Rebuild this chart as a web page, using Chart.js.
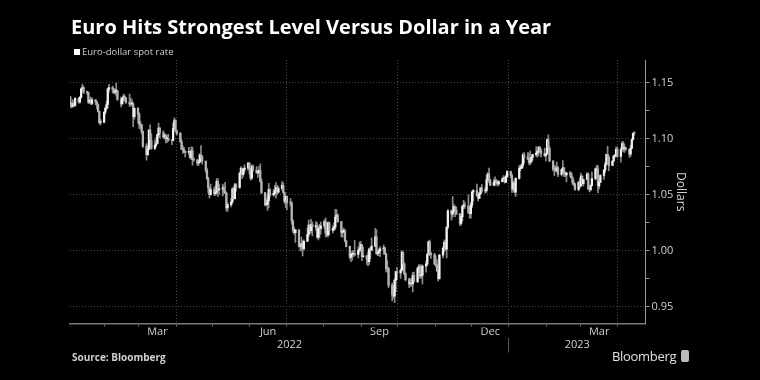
<!DOCTYPE html>
<html>
<head>
<meta charset="utf-8">
<script src="https://cdn.jsdelivr.net/npm/chart.js@4.4.1/dist/chart.umd.min.js"></script>
<style>
  html, body { margin: 0; padding: 0; background: #000; }
  #wrap { position: relative; width: 760px; height: 380px; background: #000; overflow: hidden; font-family: 'Open Sans', sans-serif; }
  #title { position: absolute; left: 71px; top: 15px; color: #fff; font-weight: 700; font-size: 20px; line-height: 24px; white-space: nowrap; }
  #legend { position: absolute; left: 74px; top: 45px; color: #d0d0d0; font-size: 9.5px; line-height: 14px; white-space: nowrap; }
  #legend .sw { display: inline-block; width: 6px; height: 6px; background: #fff; margin-right: 2px; }
  #source { position: absolute; left: 72px; top: 350px; color: #d0d0d0; font-weight: 700; font-size: 10px; line-height: 14px; }
  #brand { position: absolute; left: 612px; top: 347px; color: #e0e0e0; font-size: 13px; letter-spacing: -0.3px; line-height: 18px; white-space: nowrap; }
  #brand .ic { display: inline-block; width: 8px; height: 12px; background: #bbb; border-radius: 2px; margin-left: 5px; vertical-align: -1px; }
  canvas { position: absolute; left: 0; top: 0; }
</style>
</head>
<body>
<div id="wrap">
  <canvas id="c" width="760" height="380"></canvas>
  <div id="title">Euro Hits Strongest Level Versus Dollar in a Year</div>
  <div id="legend"><span class="sw"></span>Euro-dollar spot rate</div>
  <div id="source">Source: Bloomberg</div>
  <div id="brand">Bloomberg<span class="ic"></span></div>
</div>
<script>
// daily bars, one per weekday from firstDay; open = previous close
const firstDay = '2022-01-03';
const firstOpen = 1.1370;

const closes = [
  1.1297,1.1287,1.1313,1.1296,1.1359,
  1.1326,1.1367,1.1441,1.1455,1.1412,
  1.1409,1.1325,1.1343,1.1312,1.1344,
  1.1326,1.1303,1.1240,1.1143,1.1146,
  1.1234,1.1270,1.1303,1.1440,1.1454,
  1.1440,1.1414,1.1423,1.1425,1.1348,
  1.1308,1.1358,1.1374,1.1360,1.1322,
  1.1309,1.1307,1.1307,1.1195,1.1270,
  1.1220,1.1125,1.1121,1.1063,1.0930,
  1.0855,1.0904,1.1074,1.0985,1.0911,
  1.0941,1.0955,1.1035,1.1092,1.1050,
  1.1015,1.1029,1.0998,1.0998,1.0983,
  1.0982,1.1088,1.1160,1.1067,1.1046,
  1.0970,1.0905,1.0902,1.0879,1.0876,
  1.0884,1.0829,1.0891,1.0810,1.0808,
  1.0779,1.0788,1.0852,1.0835,1.0798,
  1.0715,1.0640,1.0560,1.0499,1.0545,
  1.0508,1.0522,1.0618,1.0541,1.0550,
  1.0559,1.0530,1.0513,1.0380,1.0410,
  1.0436,1.0549,1.0464,1.0586,1.0563,
  1.0691,1.0733,1.0680,1.0725,1.0735,
  1.0781,1.0734,1.0647,1.0750,1.0719,
  1.0694,1.0705,1.0717,1.0615,1.0517,
  1.0410,1.0414,1.0446,1.0546,1.0497,
  1.0511,1.0535,1.0565,1.0522,1.0554,
  1.0583,1.0518,1.0442,1.0484,1.0425,
  1.0424,1.0266,1.0182,1.0160,1.0186,
  1.0040,1.0036,1.0060,1.0018,1.0083,
  1.0143,1.0227,1.0179,1.0229,1.0212,
  1.0223,1.0120,1.0198,1.0197,1.0220,
  1.0260,1.0161,1.0140,1.0247,1.0181,
  1.0196,1.0210,1.0298,1.0318,1.0258,
  1.0163,1.0172,1.0176,1.0087,1.0038,
  0.9941,0.9966,0.9968,0.9969,0.9965,
  1.0003,1.0016,1.0054,0.9945,0.9954,
  0.9927,0.9902,1.0013,1.0004,1.0040,
  1.0122,0.9972,0.9981,0.9997,1.0015,
  1.0025,0.9970,0.9838,0.9837,0.9690,
  0.9606,0.9593,0.9736,0.9814,0.9802,
  0.9825,0.9986,0.9882,0.9793,0.9741,
  0.9703,0.9706,0.9702,0.9779,0.9722,
  0.9840,0.9858,0.9774,0.9780,0.9862,
  0.9879,0.9965,1.0078,0.9965,0.9964,
  0.9882,0.9874,0.9819,0.9750,0.9960,
  1.0021,1.0074,1.0013,1.0208,1.0354,
  1.0325,1.0355,1.0395,1.0362,1.0325,
  1.0243,1.0303,1.0395,1.0408,1.0398,
  1.0337,1.0330,1.0406,1.0523,1.0536,
  1.0491,1.0466,1.0508,1.0557,1.0532,
  1.0537,1.0632,1.0684,1.0627,1.0584,
  1.0606,1.0624,1.0607,1.0595,1.0616,
  1.0639,1.0639,1.0611,1.0660,1.0705,
  1.0670,1.0548,1.0605,1.0522,1.0644,
  1.0733,1.0734,1.0762,1.0852,1.0829,
  1.0822,1.0788,1.0796,1.0831,1.0856,
  1.0870,1.0886,1.0918,1.0890,1.0868,
  1.0847,1.0863,1.0990,1.0913,1.0798,
  1.0727,1.0726,1.0712,1.0738,1.0679,
  1.0723,1.0739,1.0689,1.0675,1.0694,
  1.0685,1.0650,1.0606,1.0596,1.0546,
  1.0608,1.0576,1.0665,1.0598,1.0634,
  1.0682,1.0550,1.0544,1.0582,1.0642,
  1.0732,1.0730,1.0577,1.0609,1.0670,
  1.0718,1.0768,1.0858,1.0832,1.0760,
  1.0799,1.0844,1.0844,1.0904,1.0839,
  1.0902,1.0955,1.0906,1.0920,1.0903,
  1.0861,1.0912,1.0991,1.1046,1.1045
];

const highs = [
  1.1376,1.1322,1.1346,1.1330,1.1364,
  1.1363,1.1375,1.1449,1.1483,1.1467,
  1.1423,1.1415,1.1350,1.1369,1.1363,
  1.1348,1.1330,1.1310,1.1245,1.1174,
  1.1239,1.1281,1.1333,1.1450,1.1483,
  1.1468,1.1447,1.1442,1.1495,1.1428,
  1.1370,1.1368,1.1395,1.1387,1.1367,
  1.1395,1.1360,1.1345,1.1322,1.1274,
  1.1275,1.1229,1.1152,1.1123,1.1066,
  1.0954,1.0934,1.1080,1.1121,1.1042,
  1.0983,1.1007,1.1040,1.1137,1.1097,
  1.1068,1.1046,1.1038,1.1025,1.1037,
  1.0989,1.1137,1.1185,1.1168,1.1076,
  1.1054,1.0988,1.0937,1.0922,1.0891,
  1.0922,1.0888,1.0925,1.0924,1.0826,
  1.0815,1.0803,1.0866,1.0936,1.0850,
  1.0799,1.0736,1.0654,1.0565,1.0594,
  1.0565,1.0580,1.0642,1.0642,1.0593,
  1.0593,1.0577,1.0608,1.0518,1.0429,
  1.0466,1.0563,1.0560,1.0599,1.0597,
  1.0696,1.0749,1.0737,1.0737,1.0765,
  1.0787,1.0786,1.0737,1.0765,1.0764,
  1.0750,1.0709,1.0749,1.0775,1.0640,
  1.0518,1.0469,1.0506,1.0601,1.0550,
  1.0545,1.0583,1.0606,1.0582,1.0570,
  1.0615,1.0607,1.0525,1.0487,1.0486,
  1.0465,1.0434,1.0275,1.0209,1.0190,
  1.0188,1.0063,1.0121,1.0090,1.0097,
  1.0200,1.0273,1.0234,1.0278,1.0257,
  1.0258,1.0249,1.0216,1.0234,1.0254,
  1.0274,1.0293,1.0183,1.0254,1.0255,
  1.0223,1.0248,1.0368,1.0365,1.0327,
  1.0262,1.0188,1.0202,1.0187,1.0090,
  1.0041,0.9968,0.9998,1.0000,1.0091,
  1.0034,1.0079,1.0082,1.0055,1.0034,
  0.9960,0.9988,1.0022,1.0030,1.0113,
  1.0198,1.0187,1.0002,1.0017,1.0037,
  1.0051,1.0030,0.9976,0.9909,0.9851,
  0.9711,0.9685,0.9750,0.9816,0.9852,
  0.9838,0.9999,0.9987,0.9892,0.9801,
  0.9754,0.9749,0.9755,0.9807,0.9809,
  0.9850,0.9875,0.9873,0.9874,0.9870,
  0.9907,0.9975,1.0088,1.0094,0.9988,
  0.9975,0.9953,0.9921,0.9821,0.9967,
  1.0033,1.0095,1.0094,1.0214,1.0365,
  1.0362,1.0481,1.0413,1.0397,1.0389,
  1.0332,1.0309,1.0405,1.0448,1.0432,
  1.0497,1.0386,1.0429,1.0533,1.0545,
  1.0594,1.0519,1.0520,1.0565,1.0588,
  1.0566,1.0673,1.0695,1.0736,1.0635,
  1.0639,1.0659,1.0635,1.0620,1.0625,
  1.0649,1.0670,1.0661,1.0675,1.0713,
  1.0710,1.0683,1.0620,1.0610,1.0649,
  1.0760,1.0760,1.0775,1.0868,1.0874,
  1.0874,1.0870,1.0888,1.0845,1.0860,
  1.0927,1.0890,1.0929,1.0929,1.0911,
  1.0914,1.0866,1.0995,1.1033,1.0929,
  1.0804,1.0758,1.0756,1.0790,1.0749,
  1.0729,1.0804,1.0740,1.0703,1.0695,
  1.0705,1.0695,1.0660,1.0628,1.0600,
  1.0617,1.0645,1.0691,1.0668,1.0635,
  1.0694,1.0694,1.0565,1.0589,1.0700,
  1.0737,1.0760,1.0759,1.0613,1.0679,
  1.0724,1.0788,1.0862,1.0930,1.0848,
  1.0803,1.0848,1.0857,1.0925,1.0923,
  1.0917,1.0973,1.0972,1.0943,1.0920,
  1.0906,1.0938,1.0997,1.1049,1.1060
];

const lows = [
  1.1280,1.1273,1.1279,1.1285,1.1285,
  1.1315,1.1315,1.1360,1.1433,1.1399,
  1.1394,1.1310,1.1314,1.1302,1.1301,
  1.1299,1.1264,1.1236,1.1130,1.1121,
  1.1139,1.1218,1.1258,1.1270,1.1412,
  1.1406,1.1399,1.1395,1.1377,1.1340,
  1.1281,1.1306,1.1338,1.1334,1.1312,
  1.1285,1.1289,1.1297,1.1106,1.1173,
  1.1137,1.1089,1.1085,1.1044,1.0921,
  1.0806,1.0850,1.0901,1.0974,1.0903,
  1.0901,1.0928,1.0954,1.1019,1.1005,
  1.1003,1.0995,1.0960,1.0964,1.0974,
  1.0945,1.0978,1.1084,1.1060,1.1032,
  1.0968,1.0900,1.0867,1.0877,1.0836,
  1.0854,1.0822,1.0810,1.0763,1.0796,
  1.0760,1.0757,1.0788,1.0828,1.0771,
  1.0697,1.0637,1.0515,1.0471,1.0494,
  1.0490,1.0493,1.0506,1.0483,1.0503,
  1.0488,1.0510,1.0507,1.0354,1.0350,
  1.0389,1.0421,1.0460,1.0459,1.0531,
  1.0555,1.0676,1.0642,1.0661,1.0700,
  1.0716,1.0681,1.0628,1.0636,1.0708,
  1.0690,1.0653,1.0689,1.0615,1.0508,
  1.0398,1.0397,1.0358,1.0380,1.0482,
  1.0486,1.0495,1.0470,1.0500,1.0512,
  1.0538,1.0513,1.0420,1.0382,1.0366,
  1.0397,1.0236,1.0162,1.0144,1.0072,
  1.0030,0.9999,0.9998,0.9952,1.0004,
  1.0081,1.0122,1.0160,1.0153,1.0130,
  1.0180,1.0110,1.0095,1.0113,1.0146,
  1.0193,1.0123,1.0122,1.0123,1.0141,
  1.0157,1.0179,1.0186,1.0278,1.0251,
  1.0123,1.0121,1.0162,1.0077,1.0034,
  0.9926,0.9901,0.9914,0.9947,0.9952,
  0.9935,0.9989,0.9993,0.9911,0.9941,
  0.9877,0.9863,0.9876,0.9929,1.0003,
  1.0035,0.9966,0.9955,0.9955,0.9945,
  0.9968,0.9966,0.9810,0.9808,0.9670,
  0.9553,0.9573,0.9536,0.9634,0.9743,
  0.9751,0.9818,0.9835,0.9786,0.9729,
  0.9669,0.9678,0.9684,0.9632,0.9718,
  0.9715,0.9807,0.9751,0.9755,0.9704,
  0.9808,0.9869,0.9962,0.9954,0.9931,
  0.9872,0.9855,0.9814,0.9730,0.9746,
  0.9935,0.9988,1.0005,0.9935,1.0193,
  1.0271,1.0299,1.0337,1.0302,1.0322,
  1.0222,1.0226,1.0265,1.0373,1.0376,
  1.0333,1.0289,1.0290,1.0384,1.0444,
  1.0483,1.0443,1.0463,1.0500,1.0524,
  1.0512,1.0520,1.0630,1.0603,1.0579,
  1.0577,1.0580,1.0591,1.0575,1.0583,
  1.0612,1.0621,1.0601,1.0605,1.0652,
  1.0651,1.0520,1.0547,1.0518,1.0483,
  1.0638,1.0713,1.0730,1.0740,1.0780,
  1.0810,1.0767,1.0764,1.0780,1.0807,
  1.0838,1.0834,1.0845,1.0871,1.0835,
  1.0837,1.0801,1.0860,1.0893,1.0796,
  1.0710,1.0669,1.0700,1.0705,1.0660,
  1.0667,1.0702,1.0660,1.0660,1.0613,
  1.0657,1.0645,1.0589,1.0577,1.0536,
  1.0533,1.0560,1.0570,1.0595,1.0577,
  1.0634,1.0548,1.0524,1.0532,1.0578,
  1.0630,1.0697,1.0516,1.0550,1.0605,
  1.0636,1.0698,1.0763,1.0818,1.0714,
  1.0757,1.0790,1.0828,1.0840,1.0832,
  1.0788,1.0901,1.0880,1.0876,1.0895,
  1.0831,1.0841,1.0912,1.0985,1.1030
];

const monthLabels = ['Mar', 'Jun', 'Sep', 'Dec', 'Mar'];
const monthLabelMonths = ['2022-03', '2022-06', '2022-09', '2022-12', '2023-03'];
const yearLabels = ['2022', '2023'];
const yearBreak = '2023-01-01';
const yTicks = [0.95, 1.00, 1.05, 1.10, 1.15];

// x axis runs in days since 1 Jan 2022
const DAY = 864e5;
const epoch = Date.UTC(2022, 0, 1);
const dayNum = s => (Date.parse(s + 'T00:00:00Z') - epoch) / DAY;
const xMin = 2.3, xMax = 477.8;

const wicks = [], bodies = [];
let t = Date.parse(firstDay + 'T00:00:00Z');
let prev = firstOpen;
let i = 0;
while (i < closes.length) {
  const dow = new Date(t).getUTCDay();
  if (dow !== 0 && dow !== 6) {
    const x = (t - epoch) / DAY + 0.5;
    wicks.push({ x: x, y: [lows[i], highs[i]] });
    bodies.push({ x: x, y: [prev, closes[i]], up: closes[i] >= prev });
    prev = closes[i];
    i++;
  }
  t += DAY;
}

// month boundaries for tick marks, quarter starts get grid lines
const monthStarts = [];
for (let m = 0; m < 18; m++) {
  const v = (Date.UTC(2022, m, 1) - epoch) / DAY;
  if (v >= xMin && v <= xMax) monthStarts.push({ value: v, quarter: m % 3 === 0 });
}
const quarterVals = monthStarts.filter(m => m.quarter).map(m => m.value);

const monthMid = ym => {
  const y = +ym.slice(0, 4), m = +ym.slice(5, 7) - 1;
  return ((Date.UTC(y, m, 1) - epoch) / DAY + (Date.UTC(y, m + 1, 1) - epoch) / DAY) / 2;
};
const monthLabelPos = monthLabelMonths.map(monthMid);

const brk = dayNum(yearBreak);
const yearPos = [(xMin + brk) / 2, brk, (brk + xMax) / 2];
const yearText = [yearLabels[0], '', yearLabels[1]];

const yMarks = [];
yTicks.forEach((v, k) => {
  yMarks.push(v);
  if (k < yTicks.length - 1) yMarks.push((v + yTicks[k + 1]) / 2);
});
const isMajor = v => yTicks.some(tv => Math.abs(tv - v) < 1e-6);

const gridCol = '#4a4a4a';
const none = 'rgba(0,0,0,0)';
const txt = '#d0d0d0';

Chart.defaults.font.family = "'Open Sans', sans-serif";

new Chart(document.getElementById('c'), {
  type: 'bar',
  data: {
    datasets: [
      {
        label: 'range',
        data: wicks,
        backgroundColor: '#8c8c8c',
        barThickness: 1,
        grouped: false,
        minBarLength: 1,
        order: 2
      },
      {
        label: 'Euro-dollar spot rate',
        data: bodies,
        backgroundColor: ctx => (ctx.raw && ctx.raw.up ? '#f2f2f2' : '#b4b4b4'),
        barThickness: 1.6,
        grouped: false,
        minBarLength: 1,
        order: 1
      }
    ]
  },
  options: {
    responsive: false,
    animation: false,
    devicePixelRatio: 1,
    layout: { padding: { left: 70, right: 72.5, top: 60, bottom: 26.5 } },
    plugins: {
      legend: { display: false },
      tooltip: { enabled: false }
    },
    scales: {
      x: {
        type: 'linear',
        position: 'bottom',
        min: xMin,
        max: xMax,
        offset: false,
        weight: 0,
        afterBuildTicks: s => { s.ticks = monthStarts.map(m => ({ value: m.value })); },
        afterFit: s => { s.height = 4; },
        grid: {
          offset: false,
          color: c => (c.tick && quarterVals.includes(c.tick.value) ? gridCol : none),
          tickColor: '#777',
          tickLength: 3
        },
        border: { color: '#777', width: 1.5, dash: [1, 2] },
        ticks: { display: false }
      },
      xm: {
        type: 'linear',
        position: 'bottom',
        min: xMin,
        max: xMax,
        offset: false,
        weight: 1,
        afterBuildTicks: s => { s.ticks = monthLabelPos.map(v => ({ value: v })); },
        afterFit: s => { s.height = 10; },
        grid: { display: false, drawTicks: false, offset: false },
        border: { display: false },
        ticks: {
          color: txt,
          font: { size: 11 },
          padding: -2,
          maxRotation: 0,
          autoSkip: false,
          callback: (v, k) => monthLabels[k]
        }
      },
      xy: {
        type: 'linear',
        position: 'bottom',
        min: xMin,
        max: xMax,
        offset: false,
        weight: 2,
        afterBuildTicks: s => { s.ticks = yearPos.map(v => ({ value: v })); },
        afterFit: s => { s.height = 16; },
        grid: {
          offset: false,
          drawOnChartArea: false,
          drawTicks: true,
          tickLength: 15,
          color: none,
          tickColor: c => (c.index === 1 ? '#555' : none)
        },
        border: { display: false },
        ticks: {
          color: txt,
          font: { size: 11 },
          padding: -14,
          maxRotation: 0,
          autoSkip: false,
          callback: (v, k) => yearText[k]
        }
      },
      y: {
        position: 'right',
        min: 0.935,
        max: 1.17,
        afterBuildTicks: s => { s.ticks = yMarks.map(v => ({ value: v })); },
        afterFit: s => { s.width = 42; },
        grid: {
          color: c => (c.tick && isMajor(c.tick.value) ? gridCol : none),
          tickColor: '#999',
          tickLength: 4
        },
        border: { color: '#999', width: 1, dash: [1, 2] },
        ticks: {
          color: txt,
          font: { size: 11 },
          padding: 2,
          callback: v => (isMajor(v) ? v.toFixed(2) : '')
        },
        title: {
          display: true,
          text: 'Dollars',
          color: txt,
          font: { size: 12 },
          padding: 0
        }
      }
    }
  }
});
</script>
</body>
</html>
